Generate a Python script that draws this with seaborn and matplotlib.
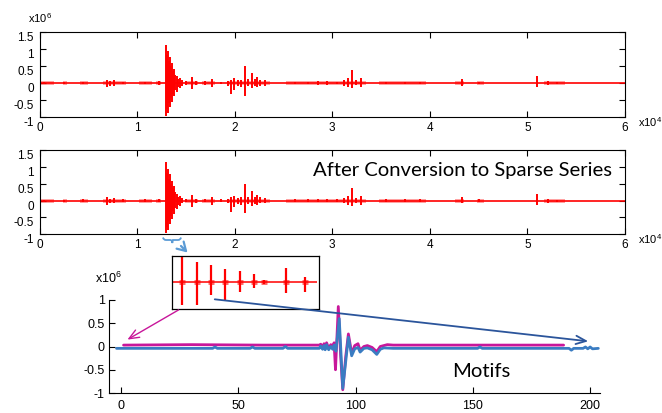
import matplotlib
matplotlib.use("Agg")
import matplotlib.pyplot as plt
import seaborn as sns
import pandas as pd
from matplotlib.path import Path
from matplotlib.patches import PathPatch

# ---------------------------------------------------------------
# Long recording: spike events (position in 1e4 samples, extremes in 1e6)
spike_pos = [0.05, 0.25, 0.45, 0.69, 0.72, 0.76, 0.86, 1.08, 1.22,
             1.295, 1.305, 1.315, 1.325, 1.335, 1.345, 1.355, 1.365, 1.375,
             1.39, 1.405, 1.42, 1.44, 1.46,
             1.50, 1.56, 1.60, 1.70, 1.77, 1.86, 1.93, 1.96, 1.99, 2.03, 2.06,
             2.11, 2.14, 2.18, 2.21, 2.23, 2.26, 2.31,
             2.62, 2.75, 2.85, 2.95, 3.05, 3.12, 3.16, 3.20, 3.24, 3.29,
             3.55, 3.75, 3.90, 4.33, 4.50, 5.10, 5.21, 5.30]
spike_top = [0.03, 0.03, 0.04, 0.10, 0.06, 0.08, 0.04, 0.04, 0.05,
             1.13, 0.82, 0.95, 0.64, 0.78, 0.50, 0.58, 0.36, 0.42,
             0.25, 0.20, 0.12, 0.14, 0.08,
             0.05, 0.18, 0.06, 0.05, 0.12, 0.04, 0.06, 0.10, 0.15, 0.08, 0.10,
             0.50, 0.12, 0.28, 0.12, 0.18, 0.10, 0.08,
             0.04, 0.04, 0.05, 0.05, 0.04, 0.08, 0.15, 0.38, 0.08, 0.15,
             0.04, 0.04, 0.04, 0.12, 0.04, 0.20, 0.06, 0.03]
spike_bottom = [-0.03, -0.03, -0.04, -0.12, -0.08, -0.08, -0.04, -0.04, -0.05,
                -0.97, -0.78, -0.88, -0.60, -0.70, -0.45, -0.55, -0.32, -0.40,
                -0.22, -0.26, -0.12, -0.15, -0.08,
                -0.05, -0.18, -0.06, -0.05, -0.12, -0.04, -0.08, -0.33, -0.20,
                -0.10, -0.12,
                -0.38, -0.10, -0.15, -0.10, -0.12, -0.08, -0.08,
                -0.04, -0.04, -0.05, -0.05, -0.04, -0.08, -0.12, -0.15, -0.06,
                -0.12,
                -0.04, -0.04, -0.04, -0.08, -0.04, -0.12, -0.06, -0.03]

# stretches of low-level activity along the baseline
activity_start = [0.00, 0.24, 0.41, 0.65, 1.02, 1.19, 1.49, 1.67, 1.92,
                  2.53, 3.48, 4.26, 4.48, 5.17]
activity_end = [0.15, 0.28, 0.50, 0.89, 1.15, 1.25, 1.62, 1.80, 2.36,
                3.35, 3.96, 4.35, 4.56, 5.39]

# zoomed window: repeated spikes (sample index, extremes in 1e6)
window_pos = [10.7, 25.3, 39.0, 53.0, 68.0, 82.3, 92.3, 114.0, 133.7]
window_top = [1.00, 0.74, 0.64, 0.49, 0.43, 0.30, 0.08, 0.52, 0.21]
window_bottom = [-0.84, -0.84, -0.47, -0.65, -0.35, -0.22, -0.06, -0.41, -0.37]

# the two matched motifs
motif_a_x = [1, 30, 60, 84.5, 85.1, 85.9, 86.5, 87.0, 87.6, 88.5, 89.4, 90.2,
             90.8, 91.4, 92.6, 93.6, 94.5, 95.8, 96.9, 98.3, 99.6, 101.0,
             101.9, 103.5, 105, 107, 109, 110.5, 112, 113.5, 116, 150, 188.7]
motif_a_y = [0.03, 0.04, 0.03, 0.03, 0.05, -0.02, 0.06, -0.03, 0.08, -0.04,
             0.04, -0.02, 0.08, -0.50, 0.86, -0.20, -0.93, -0.20, 0.27, -0.15,
             0.02, 0.06, -0.08, 0.00, 0.02, -0.02, -0.11, 0.00, 0.02, 0.04,
             0.03, 0.03, 0.03]
motif_b_x = [-2, 20, 39, 40, 41, 55, 56, 57, 69, 70, 71, 84.5, 85.1, 85.9,
             86.5, 87.0, 87.6, 88.5, 89.4, 90.2, 90.8, 91.6, 93.0, 94.5, 96.9,
             98.3, 99.6, 101.0, 101.9, 103.5, 105, 107, 109, 110.5, 112, 116,
             152, 153, 154, 191, 192, 193, 197, 198, 199, 200, 201, 203.5]
motif_b_y = [-0.04, -0.04, -0.04, -0.01, -0.04, -0.04, -0.01, -0.04, -0.04,
             0.00, -0.04, -0.04, 0.01, -0.06, 0.02, -0.07, 0.04, -0.07, 0.00,
             -0.06, 0.03, -0.10, 0.60, -0.90, 0.20, -0.20, -0.05, -0.02,
             -0.12, -0.04, -0.03, -0.07, -0.17, -0.06, -0.03, -0.04,
             -0.04, -0.01, -0.04, -0.04, -0.08, -0.04, -0.04, -0.01, -0.05,
             -0.01, -0.05, -0.04]

long_xticks = [0, 1, 2, 3, 4, 5, 6]
long_yticks = [-1, -0.5, 0, 0.5, 1, 1.5]
motif_xticks = [0, 50, 100, 150, 200]
motif_yticks = [-1, -0.5, 0, 0.5, 1]

# ---------------------------------------------------------------
sns.set_theme(style="white")
plt.rcParams["font.family"] = ["Liberation Sans", "DejaVu Sans"]
plt.rcParams["axes.unicode_minus"] = False
plt.rcParams["mathtext.default"] = "regular"

RED = "#FF0000"
MAGENTA = "#C8169A"
BLUE = "#3A7CC2"
NAVY = "#2B559B"
LIGHTBLUE = "#5B9BD5"

W, H = 662, 413
fig = plt.figure(figsize=(W / 100, H / 100), dpi=100)


def box(left, top, right, bottom):
    return [left / W, 1 - bottom / H, (right - left) / W, (bottom - top) / H]


def tick_fmt(v):
    return f"{v:g}"


def draw_long(ax):
    ax.hlines(0, 0, 6, color=RED, lw=1.2, zorder=2)
    ax.hlines([0] * len(activity_start), activity_start, activity_end,
              color=RED, alpha=0.45, lw=2.6, zorder=2)
    ax.vlines(spike_pos, spike_bottom, spike_top, color=RED, lw=1.4, zorder=3)
    ax.set_xlim(0, 6)
    ax.set_ylim(-1, 1.5)
    ax.set_xticks(long_xticks)
    ax.set_xticklabels([tick_fmt(v) for v in long_xticks])
    ax.set_yticks(long_yticks)
    ax.set_yticklabels([tick_fmt(v) for v in long_yticks])
    ax.tick_params(direction="in", top=True, right=True, bottom=True,
                   left=True, length=4, width=0.8, labelsize=8.5,
                   colors="black")
    ax.tick_params(axis="x", pad=3.5)
    ax.tick_params(axis="y", pad=4)
    plt.setp(ax.get_yticklabels(), va="top")
    for s in ax.spines.values():
        s.set_color("black")
        s.set_linewidth(0.8)
        s.set_visible(True)


ax_top = fig.add_axes(box(39.5, 32.3, 625, 116.7))
ax_mid = fig.add_axes(box(39.5, 150, 625, 234.3))
draw_long(ax_top)
draw_long(ax_mid)

# motifs panel
ax_mot = fig.add_axes(box(109, 300, 600.2, 393))
sns.lineplot(x=motif_a_x, y=motif_a_y, sort=False, estimator=None,
             color=MAGENTA, lw=2.0, ax=ax_mot)
sns.lineplot(x=motif_b_x, y=motif_b_y, sort=False, estimator=None,
             color=BLUE, lw=2.0, ax=ax_mot)
ax_mot.set_xlim(-5.2, 204.3)
ax_mot.set_ylim(-1, 1)
ax_mot.set_xticks(motif_xticks)
ax_mot.set_xticklabels([tick_fmt(v) for v in motif_xticks])
ax_mot.set_yticks(motif_yticks)
ax_mot.set_yticklabels([tick_fmt(v) for v in motif_yticks])
ax_mot.tick_params(direction="in", length=4, width=0.8, labelsize=9,
                   colors="black", bottom=True, left=True)
ax_mot.tick_params(axis="x", pad=5)
ax_mot.tick_params(axis="y", pad=3)
for side in ("top", "right"):
    ax_mot.spines[side].set_visible(False)
for side in ("left", "bottom"):
    ax_mot.spines[side].set_color("black")
    ax_mot.spines[side].set_linewidth(0.8)
ax_mot.patch.set_alpha(0)

# zoomed window
ax_win = fig.add_axes(box(171.7, 255.5, 319, 309))
ax_win.hlines(0, 0, 145, color=RED, lw=1.1)
ax_win.hlines([0] * len(window_pos), [p - 3 for p in window_pos],
              [p + 3 for p in window_pos], color=RED, alpha=0.6, lw=3.5)
ax_win.vlines(window_pos, window_bottom, window_top, color=RED, lw=1.6)
ax_win.set_xlim(0, 147.3)
ax_win.set_ylim(-1, 1)
ax_win.set_xticks([])
ax_win.set_yticks([])
for s in ax_win.spines.values():
    s.set_visible(True)
    s.set_color("black")
    s.set_linewidth(0.9)

# overlay in pixel coordinates for labels and connectors
ov = fig.add_axes([0, 0, 1, 1])
ov.set_xlim(0, W)
ov.set_ylim(H, 0)
ov.axis("off")
ov.patch.set_alpha(0)

exp_kw = dict(fontsize=8, color="black", va="center")
ov.text(40, 18, "x10$^{6}$", ha="center", **exp_kw)
ov.text(638, 122, "x10$^{4}$", ha="left", **exp_kw)
ov.text(638, 239, "x10$^{4}$", ha="left", **exp_kw)
ov.text(122, 278, "x10$^{6}$", ha="right", fontsize=9, color="black",
        va="center")

ov.text(612, 176, "After Conversion to Sparse Series", ha="right",
        va="baseline", fontsize=14.6, family=["Lato", "DejaVu Sans"],
        color="black")
ov.text(452, 377, "Motifs", ha="left", va="baseline", fontsize=14.6,
        family=["Lato", "DejaVu Sans"], color="black")

# curly brace under the selected stretch
brace = Path([(163, 237.5), (163.5, 240), (166, 240), (170, 240),
              (171.5, 240), (172, 241), (172.3, 243),
              (172.6, 241), (173, 240), (174.5, 240),
              (178, 240), (180.5, 240), (181, 237.5)],
             [Path.MOVETO, Path.CURVE3, Path.CURVE3, Path.LINETO,
              Path.CURVE3, Path.CURVE3, Path.LINETO,
              Path.CURVE3, Path.CURVE3, Path.LINETO,
              Path.LINETO, Path.CURVE3, Path.CURVE3])
ov.add_patch(PathPatch(brace, fill=False, edgecolor=LIGHTBLUE, lw=1.3))

ov.annotate("", xy=(189.5, 254.5), xytext=(179, 244),
            arrowprops=dict(arrowstyle="->,head_length=0.5,head_width=0.3",
                            color=LIGHTBLUE, lw=1.6))
ov.annotate("", xy=(125, 341), xytext=(181, 308.5),
            arrowprops=dict(arrowstyle="->,head_length=0.6,head_width=0.25",
                            color=MAGENTA, lw=1.0))
ov.annotate("", xy=(591, 341.6), xytext=(212, 299),
            arrowprops=dict(arrowstyle="->,head_length=0.6,head_width=0.25",
                            color=NAVY, lw=1.3))

fig.savefig("out.png", dpi=100)
